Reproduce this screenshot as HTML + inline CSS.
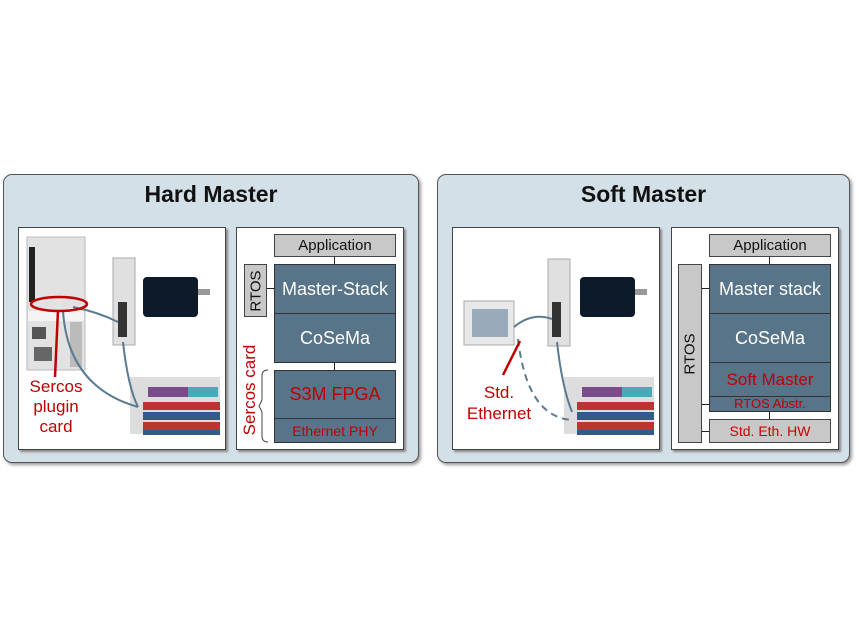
<!DOCTYPE html>
<html><head><style>
body{margin:0;width:859px;height:642px;background:#fff;position:relative;font-family:"Liberation Sans",sans-serif;overflow:hidden}
.a{position:absolute;box-sizing:border-box}
.panel{background:#d4e0e8;border:1px solid #555;border-radius:9px;box-shadow:2px 2px 3px #999}
.wb{background:#fff;border:1px solid #444;box-shadow:2px 2px 2px #888}
.g{background:#c8c8c8;border:1px solid #444;text-align:center;color:#111}
.b{background:#587488;border:1px solid #333;text-align:center;color:#fff}
.r{color:#c00000}
.t{font-weight:bold;font-size:23px;text-align:center;color:#111}
</style></head><body>
<div class="a panel" style="left:3px;top:174px;width:416px;height:289px"></div>
<div class="a panel" style="left:437px;top:174px;width:413px;height:289px"></div>
<div class="a t" style="left:3px;top:181px;width:416px">Hard Master</div>
<div class="a t" style="left:437px;top:181px;width:413px">Soft Master</div>

<!-- left image -->
<div class="a wb" style="left:18px;top:227px;width:208px;height:223px"></div>
<svg class="a" style="left:18px;top:227px" width="208" height="223">
<rect x="9" y="10" width="58" height="133" fill="#e2e2e2" stroke="#bbb"/>
<rect x="11" y="20" width="6" height="55" fill="#222"/>
<rect x="10" y="84" width="56" height="10" fill="#f4f4f4"/>
<rect x="52" y="95" width="12" height="45" fill="#bbb"/>
<rect x="14" y="100" width="14" height="12" fill="#555"/>
<rect x="16" y="120" width="18" height="14" fill="#666"/>
<rect x="95" y="31" width="22" height="87" fill="#e0e0e0" stroke="#aaa"/>
<rect x="100" y="75" width="9" height="35" fill="#333"/>
<rect x="125" y="50" width="55" height="40" rx="4" fill="#0c1a2a"/>
<rect x="180" y="62" width="12" height="6" fill="#999"/>
<rect x="112" y="150" width="90" height="57" fill="#ddd"/>
<rect x="130" y="160" width="70" height="10" fill="#7a4c8c"/>
<rect x="170" y="160" width="30" height="10" fill="#4aa8b8"/>
<rect x="125" y="175" width="77" height="8" fill="#b33"/>
<rect x="125" y="185" width="77" height="8" fill="#335a8a"/>
<rect x="125" y="195" width="77" height="8" fill="#b33"/>
<rect x="125" y="203" width="77" height="5" fill="#335a8a"/>
<path d="M55 80 Q80 85 100 95 M45 84 Q50 160 120 180 M105 115 Q110 160 120 180" stroke="#5a7a90" stroke-width="2" fill="none"/>
<ellipse cx="41" cy="77" rx="28" ry="7" fill="none" stroke="#c00000" stroke-width="2.5"/>
<line x1="40" y1="83" x2="37" y2="150" stroke="#c00000" stroke-width="2.5"/>
</svg>
<div class="a r" style="left:18px;top:377px;width:76px;text-align:center;font-size:17px;line-height:20px">Sercos<br>plugin<br>card</div>

<!-- left stack -->
<div class="a wb" style="left:236px;top:227px;width:168px;height:223px"></div>
<div class="a" style="left:334px;top:256px;width:1px;height:115px;background:#222"></div>
<div class="a" style="left:266px;top:288px;width:8px;height:1px;background:#222"></div>
<div class="a g" style="left:274px;top:234px;width:122px;height:23px;font-size:15px;line-height:21px">Application</div>
<div class="a g" style="left:244px;top:264px;width:23px;height:53px"><div style="position:absolute;left:50%;top:50%;transform:translate(-50%,-50%) rotate(-90deg);font-size:15px">RTOS</div></div>
<div class="a b" style="left:274px;top:264px;width:122px;height:50px;font-size:18px;line-height:48px">Master-Stack</div>
<div class="a b" style="left:274px;top:313px;width:122px;height:50px;font-size:18px;line-height:48px">CoSeMa</div>
<div class="a b" style="left:274px;top:370px;width:122px;height:49px;font-size:18px;line-height:47px;color:#c00000">S3M FPGA</div>
<div class="a b" style="left:274px;top:418px;width:122px;height:25px;font-size:14px;line-height:24px;color:#c00000">Ethernet PHY</div>
<div class="a r" style="left:250px;top:390px;transform:translate(-50%,-50%) rotate(-90deg);font-size:17px;white-space:nowrap">Sercos card</div>
<svg class="a" style="left:258px;top:368px" width="14" height="76"><path d="M10 2 Q4 2 4 8 V32 L1 38 L4 44 V68 Q4 74 10 74" fill="none" stroke="#444"/></svg>

<!-- right image -->
<div class="a wb" style="left:452px;top:227px;width:208px;height:223px"></div>
<svg class="a" style="left:452px;top:227px" width="208" height="223">
<rect x="12" y="74" width="50" height="44" fill="#e8e8e8" stroke="#aaa"/>
<rect x="20" y="82" width="36" height="28" fill="#9ab"/>
<rect x="96" y="32" width="22" height="87" fill="#e0e0e0" stroke="#aaa"/>
<rect x="100" y="75" width="9" height="35" fill="#333"/>
<rect x="128" y="50" width="55" height="40" rx="4" fill="#0c1a2a"/>
<rect x="183" y="62" width="12" height="6" fill="#999"/>
<rect x="112" y="150" width="90" height="57" fill="#ddd"/>
<rect x="130" y="160" width="70" height="10" fill="#7a4c8c"/>
<rect x="170" y="160" width="30" height="10" fill="#4aa8b8"/>
<rect x="125" y="175" width="77" height="8" fill="#b33"/>
<rect x="125" y="185" width="77" height="8" fill="#335a8a"/>
<rect x="125" y="195" width="77" height="8" fill="#b33"/>
<rect x="125" y="203" width="77" height="5" fill="#335a8a"/>
<path d="M62 100 Q80 85 100 92 M105 115 Q110 160 120 185" stroke="#5a7a90" stroke-width="2" fill="none"/>
<path d="M66 112 Q75 190 120 193" stroke="#5a7a90" stroke-width="2" stroke-dasharray="7,5" fill="none"/>
<line x1="68" y1="114" x2="51" y2="148" stroke="#c00000" stroke-width="2.5"/>
</svg>
<div class="a r" style="left:456px;top:382px;width:86px;text-align:center;font-size:17px;line-height:21px">Std.<br>Ethernet</div>

<!-- right stack -->
<div class="a wb" style="left:671px;top:227px;width:168px;height:223px"></div>
<div class="a" style="left:769px;top:256px;width:1px;height:164px;background:#222"></div>
<div class="a" style="left:701px;top:288px;width:8px;height:1px;background:#222"></div>
<div class="a" style="left:701px;top:404px;width:8px;height:1px;background:#222"></div>
<div class="a" style="left:701px;top:431px;width:8px;height:1px;background:#222"></div>
<div class="a g" style="left:709px;top:234px;width:122px;height:23px;font-size:15px;line-height:21px">Application</div>
<div class="a g" style="left:678px;top:264px;width:24px;height:179px"><div style="position:absolute;left:50%;top:50%;transform:translate(-50%,-50%) rotate(-90deg);font-size:15px">RTOS</div></div>
<div class="a b" style="left:709px;top:264px;width:122px;height:50px;font-size:18px;line-height:48px">Master stack</div>
<div class="a b" style="left:709px;top:313px;width:122px;height:50px;font-size:18px;line-height:48px">CoSeMa</div>
<div class="a b" style="left:709px;top:362px;width:122px;height:35px;font-size:17px;line-height:33px;color:#c00000">Soft Master</div>
<div class="a b" style="left:709px;top:396px;width:122px;height:16px;font-size:13px;line-height:14px;color:#c00000">RTOS Abstr.</div>
<div class="a g" style="left:709px;top:419px;width:122px;height:24px;font-size:14px;line-height:22px;color:#d00000">Std. Eth. HW</div>
</body></html>
